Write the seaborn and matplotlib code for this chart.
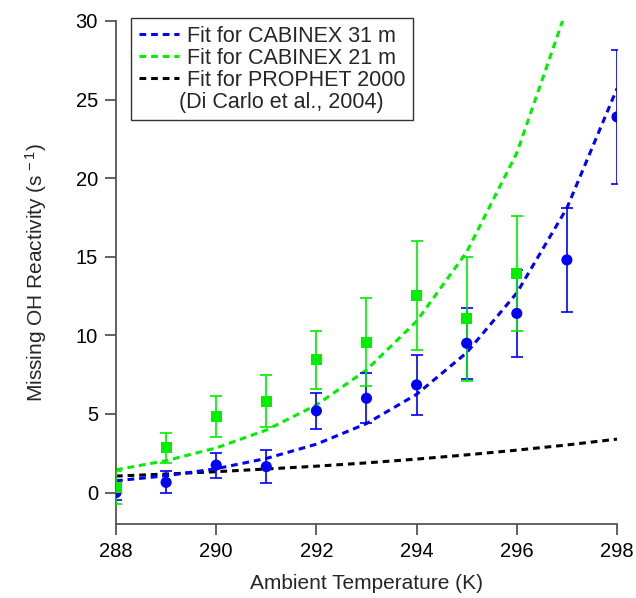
import matplotlib
matplotlib.use("Agg")
import matplotlib.pyplot as plt
from matplotlib.lines import Line2D
import seaborn as sns
import pandas as pd

# ---- data ----
temp_31 = [288, 289, 290, 291, 292, 293, 294, 295, 296, 297, 298]
oh_31 = [0.0, 0.65, 1.75, 1.65, 5.2, 6.0, 6.85, 9.5, 11.4, 14.8, 23.9]
err_31 = [0.5, 0.7, 0.8, 1.05, 1.15, 1.6, 1.9, 2.25, 2.75, 3.3, 4.25]

temp_21 = [288, 289, 290, 291, 292, 293, 294, 295, 296]
oh_21 = [0.35, 2.85, 4.85, 5.8, 8.45, 9.55, 12.55, 11.05, 13.95]
err_21 = [1.05, 0.95, 1.3, 1.65, 1.85, 2.8, 3.45, 3.95, 3.65]

fit_temp_31 = [288, 289, 290, 291, 292, 293, 294, 295, 296, 297, 298]
fit_31 = [0.75, 1.07, 1.52, 2.17, 3.08, 4.39, 6.25, 8.90, 12.7, 18.1, 25.7]

fit_temp_21 = [288, 289, 290, 291, 292, 293, 294, 295, 296, 297]
fit_21 = [1.45, 2.03, 2.84, 3.98, 5.57, 7.80, 10.9, 15.3, 21.6, 30.8]

fit_temp_p = [288, 289, 290, 291, 292, 293, 294, 295, 296, 297, 298]
fit_p = [1.05, 1.18, 1.33, 1.50, 1.68, 1.89, 2.13, 2.40, 2.70, 3.03, 3.40]

legend_labels = ["Fit for CABINEX 31 m", "Fit for CABINEX 21 m",
                 "Fit for PROPHET 2000", "(Di Carlo et al., 2004)"]
x_ticks = [288, 290, 292, 294, 296, 298]
y_ticks = [0, 5, 10, 15, 20, 25, 30]

BLUE = "#0000ff"
GREEN = "#00ee00"
BLACK = "#000000"

sns.set_theme(style="ticks")
plt.rcParams["font.family"] = ["Liberation Sans", "DejaVu Sans"]
plt.rcParams["mathtext.fontset"] = "custom"
plt.rcParams["mathtext.rm"] = "Liberation Sans"
plt.rcParams["mathtext.it"] = "Liberation Sans"

fig = plt.figure(figsize=(6.36, 5.98), dpi=100)
ax = fig.add_axes([0.1824, 0.1237, 0.9701 - 0.1824, 0.9649 - 0.1237])

df_fit31 = pd.DataFrame({"T": fit_temp_31, "y": fit_31})
df_fit21 = pd.DataFrame({"T": fit_temp_21, "y": fit_21})
df_fitp = pd.DataFrame({"T": fit_temp_p, "y": fit_p})
dash = (0, (2.2, 1.6))
sns.lineplot(data=df_fitp, x="T", y="y", ax=ax, color=BLACK, lw=2.2,
             linestyle=dash, zorder=2)
sns.lineplot(data=df_fit31, x="T", y="y", ax=ax, color=BLUE, lw=2.2,
             linestyle=dash, zorder=2)
sns.lineplot(data=df_fit21, x="T", y="y", ax=ax, color=GREEN, lw=2.2,
             linestyle=dash, zorder=2)

# error bars
ax.errorbar(temp_31, oh_31, yerr=err_31, fmt="none", ecolor=BLUE,
            elinewidth=1.2, capsize=4, capthick=1.2, zorder=3)
ax.errorbar(temp_21, oh_21, yerr=err_21, fmt="none", ecolor=GREEN,
            elinewidth=1.2, capsize=4, capthick=1.2, zorder=4)

df31 = pd.DataFrame({"T": temp_31, "y": oh_31})
df21 = pd.DataFrame({"T": temp_21, "y": oh_21})
sns.scatterplot(data=df31, x="T", y="y", ax=ax, color=BLUE, marker="o",
                s=64, edgecolor="none", zorder=5)
sns.scatterplot(data=df21, x="T", y="y", ax=ax, color=GREEN, marker="s",
                s=64, edgecolor="none", zorder=6)

ax.set_xlim(288, 298)
ax.set_ylim(-2.0, 30)
ax.set_xticks(x_ticks)
ax.set_yticks(y_ticks)
ax.set_xticklabels([str(t) for t in x_ticks])
ax.set_yticklabels([str(t) for t in y_ticks])

for side in ["top", "right"]:
    ax.spines[side].set_visible(False)
for side in ["left", "bottom"]:
    ax.spines[side].set_color("#555555")
    ax.spines[side].set_linewidth(1.3)
ax.tick_params(axis="both", direction="out", length=8, width=1.3,
               color="#555555", labelsize=14.5, labelcolor="black", pad=5)

ax.set_xlabel("Ambient Temperature (K)", fontsize=15, labelpad=9)
ax.set_ylabel(r"Missing OH Reactivity (s$^{\,-1}$)", fontsize=15, labelpad=19)

handles = [
    Line2D([], [], color=BLUE, lw=2.2, linestyle=dash),
    Line2D([], [], color=GREEN, lw=2.2, linestyle=dash),
    Line2D([], [], color=BLACK, lw=2.2, linestyle=dash),
    Line2D([], [], linestyle="none"),
]
leg = ax.legend(handles, legend_labels, loc="upper left",
                bbox_to_anchor=(0.03, 1.006), fontsize=15.5, frameon=True,
                fancybox=False, edgecolor="#333333", framealpha=1,
                handlelength=1.9, handletextpad=0.35, labelspacing=0.05,
                borderpad=0.35, borderaxespad=0)
leg.get_frame().set_linewidth(1.0)
leg.set_zorder(10)
leg.get_texts()[3].set_x(-8)

fig.savefig("out.png", dpi=100)
